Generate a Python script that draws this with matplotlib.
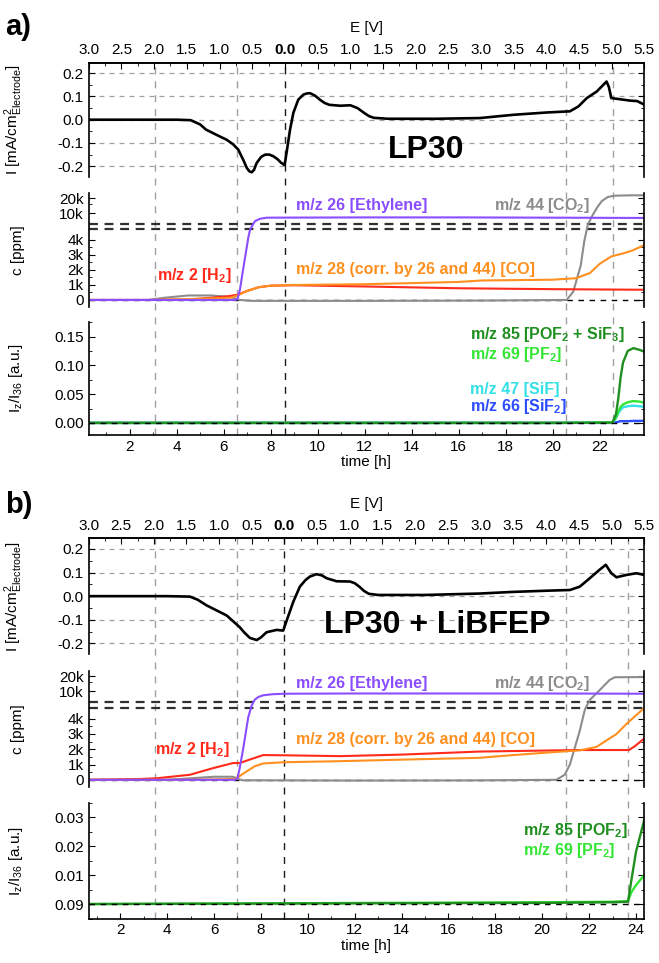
import numpy as np
import matplotlib
matplotlib.use('Agg')
import matplotlib.pyplot as plt
from matplotlib.lines import Line2D
from matplotlib.ticker import FixedLocator, MultipleLocator

plt.rcParams['font.family'] = ['Liberation Sans', 'DejaVu Sans']
plt.rcParams['mathtext.default'] = 'regular'
plt.rcParams['font.size'] = 11

# ---------------- panel a) LP30 ----------------
t_I_a = [0.26, 2.0, 4.0, 4.6, 5.0, 5.26, 5.8, 6.13, 6.4, 6.63, 6.85, 6.99, 7.1, 7.2, 7.3,
         7.41, 7.6, 7.77, 7.95, 8.12, 8.3, 8.45, 8.6, 8.7, 8.83, 8.97, 9.18, 9.4, 9.55,
         9.68, 9.9, 10.1, 10.3, 10.5, 10.96, 11.4, 11.7, 12.0, 12.2, 12.4, 13.0, 15.0,
         16.9, 18.33, 19.75, 20.74, 21.1, 21.46, 21.88, 22.3, 22.4, 22.5, 22.87, 23.3,
         23.6, 23.9]
I_a = [0.0, 0.0, 0.0, -0.002, -0.02, -0.043, -0.07, -0.086, -0.105, -0.129, -0.175, -0.207,
       -0.222, -0.226, -0.215, -0.186, -0.16, -0.15, -0.15, -0.157, -0.17, -0.185, -0.195,
       -0.13, -0.043, 0.029, 0.086, 0.108, 0.113, 0.114, 0.103, 0.086, 0.072, 0.064, 0.06,
       0.062, 0.05, 0.028, 0.015, 0.008, 0.004, 0.004, 0.007, 0.021, 0.031, 0.036, 0.057,
       0.093, 0.121, 0.164, 0.14, 0.093, 0.088, 0.082, 0.08, 0.065]

t_eth_a = [0.26, 6.5, 6.6, 6.7, 6.85, 7.06, 7.13, 7.34, 7.55, 7.84, 12.0, 16.0, 20.0, 23.9]
eth_a = [0, 0, 100, 700, 2200, 4200, 4700, 6900, 7700, 8100, 8200, 8200, 8100, 8000]
t_co2_a = [0.26, 2.8, 3.5, 4.5, 5.5, 6.3, 6.7, 7.2, 12.0, 17.0, 20.6, 20.88, 21.0, 21.2,
           21.35, 21.5, 21.7, 21.9, 22.1, 22.35, 22.6, 23.2, 23.9]
co2_a = [0, 0, 150, 300, 300, 200, 0, -60, -60, -40, 0, 550, 1200, 2300, 3900, 5800,
         9000, 13000, 17500, 21000, 22300, 22700, 22800]
t_co_a = [0.26, 3.0, 5.0, 6.3, 6.6, 7.0, 7.5, 8.0, 9.0, 12.0, 16.0, 17.0, 20.0, 21.0,
          21.6, 22.0, 22.5, 23.0, 23.4, 23.9]
co_a = [0, 0, 80, 150, 300, 600, 850, 950, 1000, 1050, 1200, 1300, 1350, 1450, 1800,
        2400, 2900, 3100, 3300, 3650]
t_h2_a = [0.26, 3.0, 4.5, 5.5, 6.2, 6.6, 7.0, 7.5, 8.0, 9.0, 12.0, 16.0, 20.0, 23.9]
h2_a = [0, 0, 30, 150, 250, 350, 600, 850, 950, 980, 900, 780, 720, 680]

t_ms_a = [0.26, 10.0, 20.0, 22.55, 22.7, 22.8, 22.9, 23.0, 23.2, 23.44, 23.7, 23.9]
m85_a = [0, 0, 0, 0.0005, 0.015, 0.043, 0.08, 0.105, 0.125, 0.13, 0.127, 0.124]
m69_a = [0, 0, 0, 0.0005, 0.01, 0.02, 0.028, 0.032, 0.036, 0.038, 0.037, 0.035]
m47_a = [0, 0, 0, 0.0005, 0.008, 0.017, 0.023, 0.027, 0.029, 0.030, 0.029, 0.028]
m66_a = [0, 0, 0, 0, 0.001, 0.002, 0.003, 0.003, 0.003, 0.0035, 0.0035, 0.0035]

# ---------------- panel b) LP30 + LiBFEP ----------------
t_I_b = [0.65, 2.0, 4.0, 4.97, 5.3, 5.68, 6.54, 7.1, 7.3, 7.53, 7.82, 8.0, 8.24, 8.67,
         8.95, 9.1, 9.38, 9.66, 9.9, 10.09, 10.37, 10.6, 10.8, 11.23, 11.8, 12.0, 12.2,
         12.4, 12.6, 13.0, 15.0, 17.33, 18.76, 20.18, 21.18, 21.6, 22.03, 22.45, 22.71,
         22.95, 23.17, 23.6, 24.02, 24.35]
I_b = [0.0, 0.0, 0.0, -0.002, -0.015, -0.039, -0.082, -0.132, -0.155, -0.177, -0.186,
       -0.175, -0.153, -0.143, -0.146, -0.103, -0.024, 0.04, 0.068, 0.083, 0.093, 0.088,
       0.076, 0.063, 0.062, 0.055, 0.04, 0.022, 0.01, 0.005, 0.005, 0.011, 0.018, 0.023,
       0.026, 0.04, 0.076, 0.112, 0.133, 0.097, 0.08, 0.09, 0.097, 0.09]

t_eth_b = [0.65, 6.9, 7.0, 7.1, 7.25, 7.46, 7.6, 7.74, 7.9, 8.1, 8.5, 9.0, 12.0, 16.0,
           20.0, 24.35]
eth_b = [0, 0, 100, 800, 2100, 4100, 5200, 6900, 7800, 8400, 8800, 9000, 9100, 9100,
         9100, 9000]
t_co2_b = [0.65, 4.0, 5.0, 6.0, 6.8, 7.2, 12.0, 17.0, 20.6, 20.96, 21.18, 21.39, 21.6,
           21.82, 22.03, 22.46, 22.88, 23.1, 24.35]
co2_b = [0, 0, 100, 200, 200, -30, -50, -40, 0, 330, 1000, 2100, 3200, 4600, 6800,
         10700, 16900, 19000, 19200]
t_co_b = [0.65, 5.0, 6.9, 7.39, 7.74, 8.1, 8.95, 11.37, 14.0, 17.33, 18.76, 20.18, 21.6,
          22.31, 22.6, 23.17, 23.6, 24.35]
co_b = [0, 0, 50, 550, 890, 1070, 1150, 1220, 1320, 1440, 1620, 1780, 1930, 2150, 2440,
        3000, 3670, 4700]
t_h2_b = [0.65, 2.8, 3.55, 4.97, 5.97, 6.82, 7.1, 7.53, 8.1, 9.24, 11.37, 14.0, 17.33,
          21.6, 23.7, 23.95, 24.35]
h2_b = [0, 50, 100, 330, 770, 1100, 1100, 1330, 1620, 1600, 1550, 1650, 1850, 1950,
        1950, 2200, 2700]

t_ms_b = [0.65, 10.0, 20.0, 23.0, 23.66, 23.8, 24.0, 24.35]
m85_b = [0.0, 0.0002, 0.0004, 0.0006, 0.0008, 0.008, 0.018, 0.029]
m69_b = [0.0, 0.0003, 0.0006, 0.0008, 0.001, 0.004, 0.0065, 0.01]

E_cath = ['3.0', '2.5', '2.0', '1.5', '1.0', '0.5', '0.0']
E_anod = ['0.5', '1.0', '1.5', '2.0', '2.5', '3.0', '3.5', '4.0', '4.5', '5.0', '5.5']

c_ticks = [0, 1000, 2000, 3000, 4000, 10000, 20000]
c_labels = ['0', '1k', '2k', '3k', '4k', '10k', '20k']

PURPLE = '#8a4dff'
GRAY = '#8c8c8c'
ORANGE = '#ff9020'
RED = '#ff2a1a'
DKGREEN = '#1f8f1f'
GREEN = '#33e633'
CYAN = '#33e0e6'
BLUE = '#2b4dff'

BRK = 4700.0


def fwd(v):
    v = np.asarray(v, dtype=float)
    up = BRK / 1000 + np.log2(np.maximum(v, BRK) / BRK)
    return np.where(v <= BRK, v / 1000, up)


def inv(u):
    u = np.asarray(u, dtype=float)
    up = BRK * np.exp2(np.maximum(u, BRK / 1000) - BRK / 1000)
    return np.where(u <= BRK / 1000, u * 1000, up)


def frame(ax, hide):
    ax.patch.set_alpha(0)
    for s in hide:
        ax.spines[s].set_visible(False)
    for s in ax.spines.values():
        s.set_linewidth(1.2)
    ax.tick_params(which='both', direction='in', right=True, top=False, bottom=False,
                   labelbottom=False, labelsize=11)
    ax.tick_params(which='major', length=4)
    ax.tick_params(which='minor', length=2)


def panel(fig, rects, xlim, marks, vertex, letter, name, name_xy,
          current, gases, ms, ms_ylim, ms_ticks, ms_labels, ms_minor, ms_texts,
          gas_texts, xmax_tick):
    ax1 = fig.add_axes(rects[0])
    ax2 = fig.add_axes(rects[1])
    ax3 = fig.add_axes(rects[2])

    # current
    ax1.plot(current[0], current[1], color='black', lw=1.9)
    ax1.set_xlim(xlim)
    ax1.set_ylim(-0.245, 0.245)
    ax1.set_yticks([-0.2, -0.1, 0.0, 0.1, 0.2], ['-0.2', '-0.1', '0.0', '0.1', '0.2'])
    ax1.yaxis.set_minor_locator(MultipleLocator(0.05))
    for yv in [-0.2, -0.1, 0.0, 0.1, 0.2]:
        ax1.axhline(yv, color='#a0a0a0', lw=0.9, dashes=(4, 4), zorder=0)
    frame(ax1, ['bottom'])
    ax1.set_ylabel(r'I [mA/cm$^{2}_{Electrode}$]', fontsize=11)
    ax1.text(name_xy[0], name_xy[1], name, transform=ax1.transAxes, fontsize=23,
             fontweight='bold', ha='center', va='center')

    top = ax1.secondary_xaxis('top')
    pos = list(np.linspace(xlim[0], vertex, len(E_cath))) + \
        list(np.linspace(vertex, xlim[1], len(E_anod) + 1)[1:])
    top.set_xticks(pos, E_cath + E_anod)
    top.tick_params(direction='in', length=4, labelsize=11, pad=4)
    top.xaxis.set_minor_locator(FixedLocator([(a + b) / 2 for a, b in zip(pos[:-1], pos[1:])]))
    top.tick_params(which='minor', direction='in', length=2)
    top.get_xticklabels()[len(E_cath) - 1].set_fontweight('bold')
    top.spines['top'].set_linewidth(1.2)
    top.set_xlabel('E [V]', fontsize=11, labelpad=8)

    # gases
    ax2.set_yscale('function', functions=(fwd, inv))
    for (tt, vv, col) in gases:
        ax2.plot(tt, vv, color=col, lw=1.5)
    ax2.set_xlim(xlim)
    ax2.set_ylim(-450, inv(7.15))
    ax2.yaxis.set_major_locator(FixedLocator(c_ticks))
    ax2.set_yticklabels(c_labels)
    ax2.yaxis.set_minor_locator(FixedLocator([500, 1500, 2500, 3500, 15000]))
    ax2.axhline(0, color='black', lw=1.0, dashes=(4, 4), zorder=1)
    for bv in [4730, 6100]:
        ax2.axhline(bv, color='#303030', lw=1.6, dashes=(4, 3), zorder=1)
    frame(ax2, ['top', 'bottom'])
    ax2.set_ylabel('c [ppm]', fontsize=11)
    for (txt, x, y, col, ha) in gas_texts:
        ax2.text(x, y, txt, transform=ax2.transAxes, color=col, fontsize=11.5,
                 fontweight='bold', ha=ha, va='center')

    # mass traces
    for (tt, vv, col) in ms:
        ax3.plot(tt, vv, color=col, lw=1.7)
    ax3.axhline(0, color='black', lw=1.0, dashes=(4, 4), zorder=5)
    ax3.set_xlim(xlim)
    ax3.set_ylim(ms_ylim)
    ax3.set_yticks(ms_ticks, ms_labels)
    ax3.yaxis.set_minor_locator(MultipleLocator(ms_minor))
    frame(ax3, ['top'])
    ax3.tick_params(which='both', bottom=True, labelbottom=True)
    xt = list(range(2, xmax_tick + 1, 2))
    ax3.set_xticks(xt, [str(v) for v in xt])
    ax3.xaxis.set_minor_locator(MultipleLocator(1))
    ax3.set_xlabel('time [h]', fontsize=11, labelpad=1)
    ax3.set_ylabel(r'I$_{z}$/I$_{36}$ [a.u.]', fontsize=11)
    for (txt, x, y, col) in ms_texts:
        ax3.text(x, y, txt, transform=ax3.transAxes, color=col, fontsize=11.5,
                 fontweight='bold', ha='left', va='center')

    for ax in (ax1, ax2, ax3):
        ax.yaxis.set_label_coords(-0.115, 0.5)

    # vertical marker lines running through the whole panel
    y_top = rects[0][1] + rects[0][3]
    y_bot = rects[2][1]
    for t in marks:
        xf = fig.transFigure.inverted().transform(ax1.transData.transform((t, 0)))[0]
        col = '#1a1a1a' if t == vertex else '#a0a0a0'
        fig.add_artist(Line2D([xf, xf], [y_bot, y_top], transform=fig.transFigure,
                              color=col, lw=1.0, dashes=(5, 5), zorder=-1))

    fig.text(0.008, letter[1], letter[0], fontsize=21, fontweight='bold',
             ha='left', va='center')


fig = plt.figure(figsize=(6.59, 9.63), dpi=100)

L, W = 0.1345, 0.843
rects_a = [[L, 0.8165, W, 0.1184], [L, 0.6815, W, 0.1184], [L, 0.5483, W, 0.1177]]
rects_b = [[L, 0.3209, W, 0.1201], [L, 0.1831, W, 0.1205], [L, 0.0462, W, 0.1202]]

gas_text_a = [('m/z 26 [Ethylene]', 0.373, 0.892, PURPLE, 'left'),
              ('m/z 44 [CO$_2$]', 0.903, 0.892, GRAY, 'right'),
              ('m/z 2 [H$_2$]', 0.123, 0.27, RED, 'left'),
              ('m/z 28 (corr. by 26 and 44) [CO]', 0.373, 0.33, ORANGE, 'left')]
gas_text_b = [('m/z 26 [Ethylene]', 0.373, 0.892, PURPLE, 'left'),
              ('m/z 44 [CO$_2$]', 0.903, 0.892, GRAY, 'right'),
              ('m/z 2 [H$_2$]', 0.12, 0.32, RED, 'left'),
              ('m/z 28 (corr. by 26 and 44) [CO]', 0.373, 0.41, ORANGE, 'left')]

panel(fig, rects_a, (0.26, 23.9), [3.09, 6.56, 8.62, 20.57, 22.59], 8.62,
      ('a)', 0.972), 'LP30', (0.608, 0.23),
      (t_I_a, I_a),
      [(t_co2_a, co2_a, GRAY), (t_h2_a, h2_a, RED), (t_co_a, co_a, ORANGE),
       (t_eth_a, eth_a, PURPLE)],
      [(t_ms_a, m66_a, BLUE), (t_ms_a, m47_a, CYAN), (t_ms_a, m69_a, GREEN),
       (t_ms_a, m85_a, DKGREEN)],
      (-0.021, 0.176), [0.0, 0.05, 0.10, 0.15], ['0.00', '0.05', '0.10', '0.15'], 0.025,
      [('m/z 85 [POF$_2$ + SiF$_3$]', 0.687, 0.883, DKGREEN),
       ('m/z 69 [PF$_2$]', 0.687, 0.706, GREEN),
       ('m/z 47 [SiF]', 0.687, 0.397, CYAN),
       ('m/z 66 [SiF$_2$]', 0.687, 0.25, BLUE)],
      gas_text_a, 22)

panel(fig, rects_b, (0.65, 24.35), [3.48, 6.96, 9.0, 21.0, 23.66], 9.0,
      ('b)', 0.476), 'LP30 + LiBFEP', (0.627, 0.25),
      (t_I_b, I_b),
      [(t_co2_b, co2_b, GRAY), (t_h2_b, h2_b, RED), (t_co_b, co_b, ORANGE),
       (t_eth_b, eth_b, PURPLE)],
      [(t_ms_b, m69_b, GREEN), (t_ms_b, m85_b, DKGREEN)],
      (-0.005, 0.035), [0.0, 0.01, 0.02, 0.03], ['0.09', '0.01', '0.02', '0.03'], 0.005,
      [('m/z 85 [POF$_2$]', 0.782, 0.764, DKGREEN),
       ('m/z 69 [PF$_2$]', 0.782, 0.59, GREEN)],
      gas_text_b, 24)

fig.savefig('out.png', dpi=100)
